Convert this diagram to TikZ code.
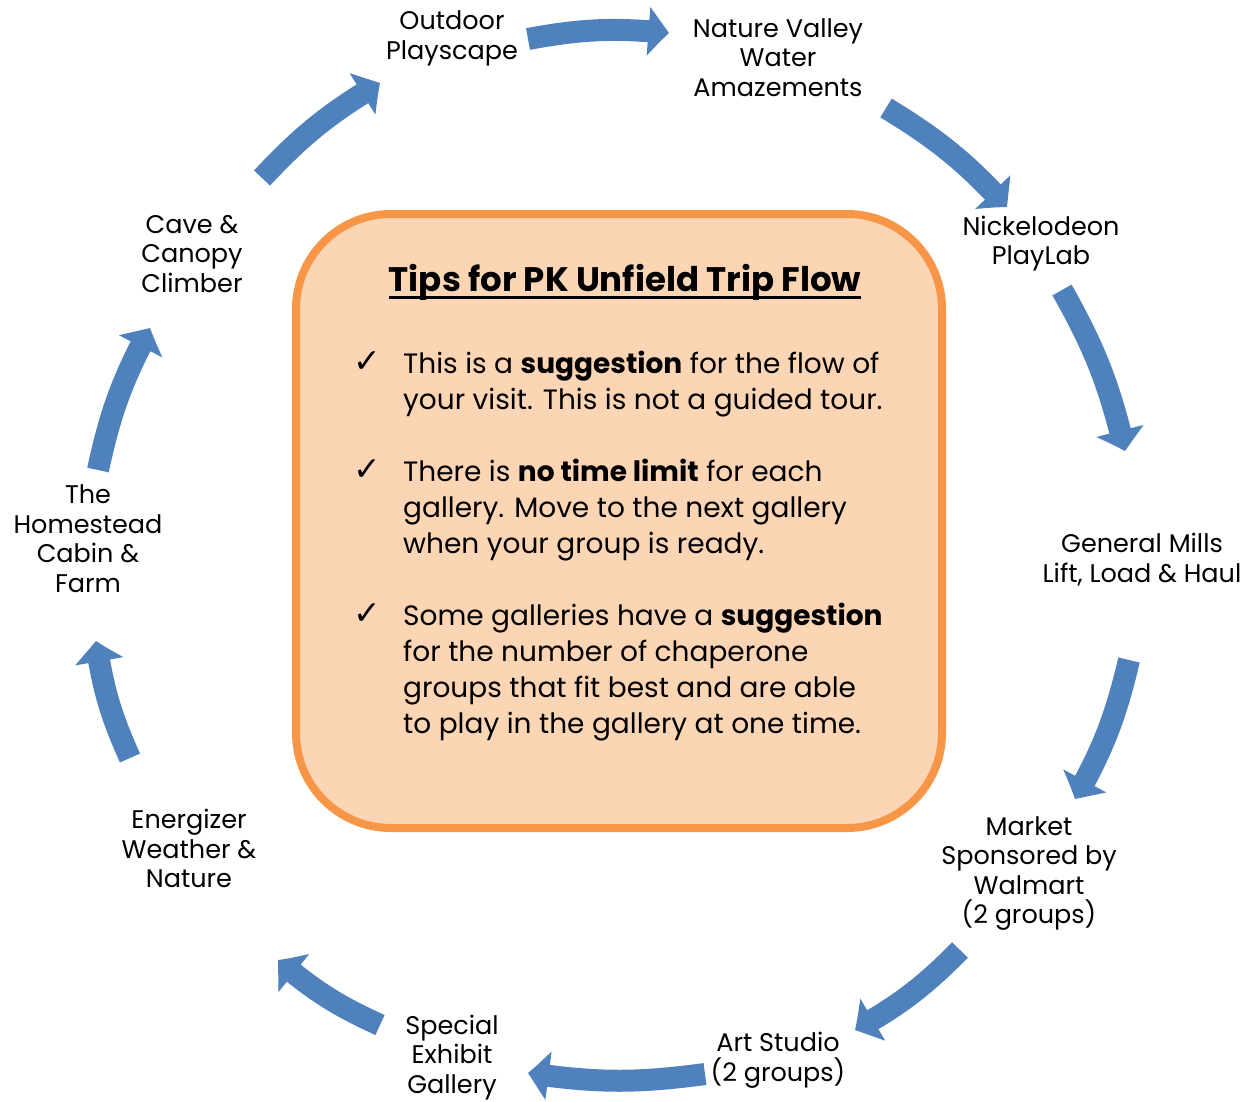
\documentclass[tikz,border=0pt]{standalone}
\usepackage{fontspec}
\setmainfont{Poppins}
\newfontfamily\symfont{DejaVu Sans}
\usetikzlibrary{arrows.meta,bending}
\definecolor{arrowblue}{HTML}{4F81BD}
\definecolor{boxfill}{HTML}{FCD5B5}
\definecolor{boxline}{HTML}{F79646}
\begin{document}
\begin{tikzpicture}[x=1pt,y=-1pt,
  flowarrow/.style={draw=arrowblue, line width=22pt, -{Triangle[width=47pt,length=21pt,bend]}},
  station/.style={align=center, font=\fontsize{25.5}{29.5}\selectfont, inner sep=0pt},
  tiptext/.style={align=left, anchor=base west, font=\fontsize{28}{36}\selectfont, inner sep=0pt},
  checkmk/.style={anchor=base, font=\symfont\fontsize{33}{36}\selectfont, inner sep=0pt},
  tipbox/.style={draw=boxline, fill=boxfill, line width=8pt, rounded corners=95pt}]
\useasboundingbox (0,0) rectangle (1257,1101);
\fill[white] (0,0) rectangle (1257,1101);

% central box
\draw[tipbox] (296,214) rectangle (942,828);
\node[anchor=base, inner sep=0pt, font=\fontsize{34}{40}\selectfont\bfseries] (title) at (625,291) {Tips for PK Unfield Trip Flow};
\draw[line width=3pt] ([yshift=-6pt]title.base west) -- ([yshift=-6pt]title.base east);

% bullets (base anchor = baseline of the last line)
\node[checkmk] (c1) at (367,372) {✓};
\node[tiptext] (t1) at (403,409) {This is a \textbf{suggestion} for the flow of\\your visit. This is not a guided tour.};
\node[checkmk] (c2) at (367,480) {✓};
\node[tiptext] (t2) at (403,553) {There is \textbf{no time limit} for each\\gallery. Move to the next gallery\\when your group is ready.};
\node[checkmk] (c3) at (367,624) {✓};
\node[tiptext] (t3) at (403,733) {Some galleries have a \textbf{suggestion}\\for the number of chaperone\\groups that fit best and are able\\to play in the gallery at one time.};

% stations
\node[station] (outdoor) at (452,38.5) {Outdoor\\Playscape};
\node[station] (nature) at (778,57.5) {Nature Valley\\Water\\Amazements};
\node[station] (nick) at (1041,243.5) {Nickelodeon\\PlayLab};
\node[station] (gm) at (1142,559.5) {General Mills\\Lift, Load \& Haul};
\node[station] (market) at (1029,873.5) {Market\\Sponsored by\\Walmart\\(2 groups)};
\node[station] (art) at (778,1060) {Art Studio\\(2 groups)};
\node[station] (special) at (452,1057.5) {Special\\Exhibit\\Gallery};
\node[station] (energ) at (189,848.5) {Energizer\\Weather \&\\Nature};
\node[station] (home) at (88,538.5) {The\\Homestead\\Cabin \&\\Farm};
\node[station] (cave) at (192,254) {Cave \&\\Canopy\\Climber};

% arrow end points
\coordinate (a1s) at (528,39);  \coordinate (a1e) at (669,33);
\coordinate (a2s) at (886,108); \coordinate (a2e) at (1007,207);
\coordinate (a3s) at (1062,290); \coordinate (a3e) at (1125,451);
\coordinate (a4s) at (1129,660); \coordinate (a4e) at (1075,799);
\coordinate (a5s) at (960,950); \coordinate (a5e) at (855,1030);
\coordinate (a6s) at (705,1074); \coordinate (a6e) at (528,1073);
\coordinate (a7s) at (380,1025); \coordinate (a7e) at (278,960);
\coordinate (a8s) at (130,758); \coordinate (a8e) at (96,641);
\coordinate (a9s) at (98,470); \coordinate (a9e) at (150,328);
\coordinate (a10s) at (262,178); \coordinate (a10e) at (380,83);

\foreach \i in {1,...,10} {
  \draw[flowarrow] (a\i s) to[bend left=8] (a\i e);
}
\end{tikzpicture}
\end{document}
